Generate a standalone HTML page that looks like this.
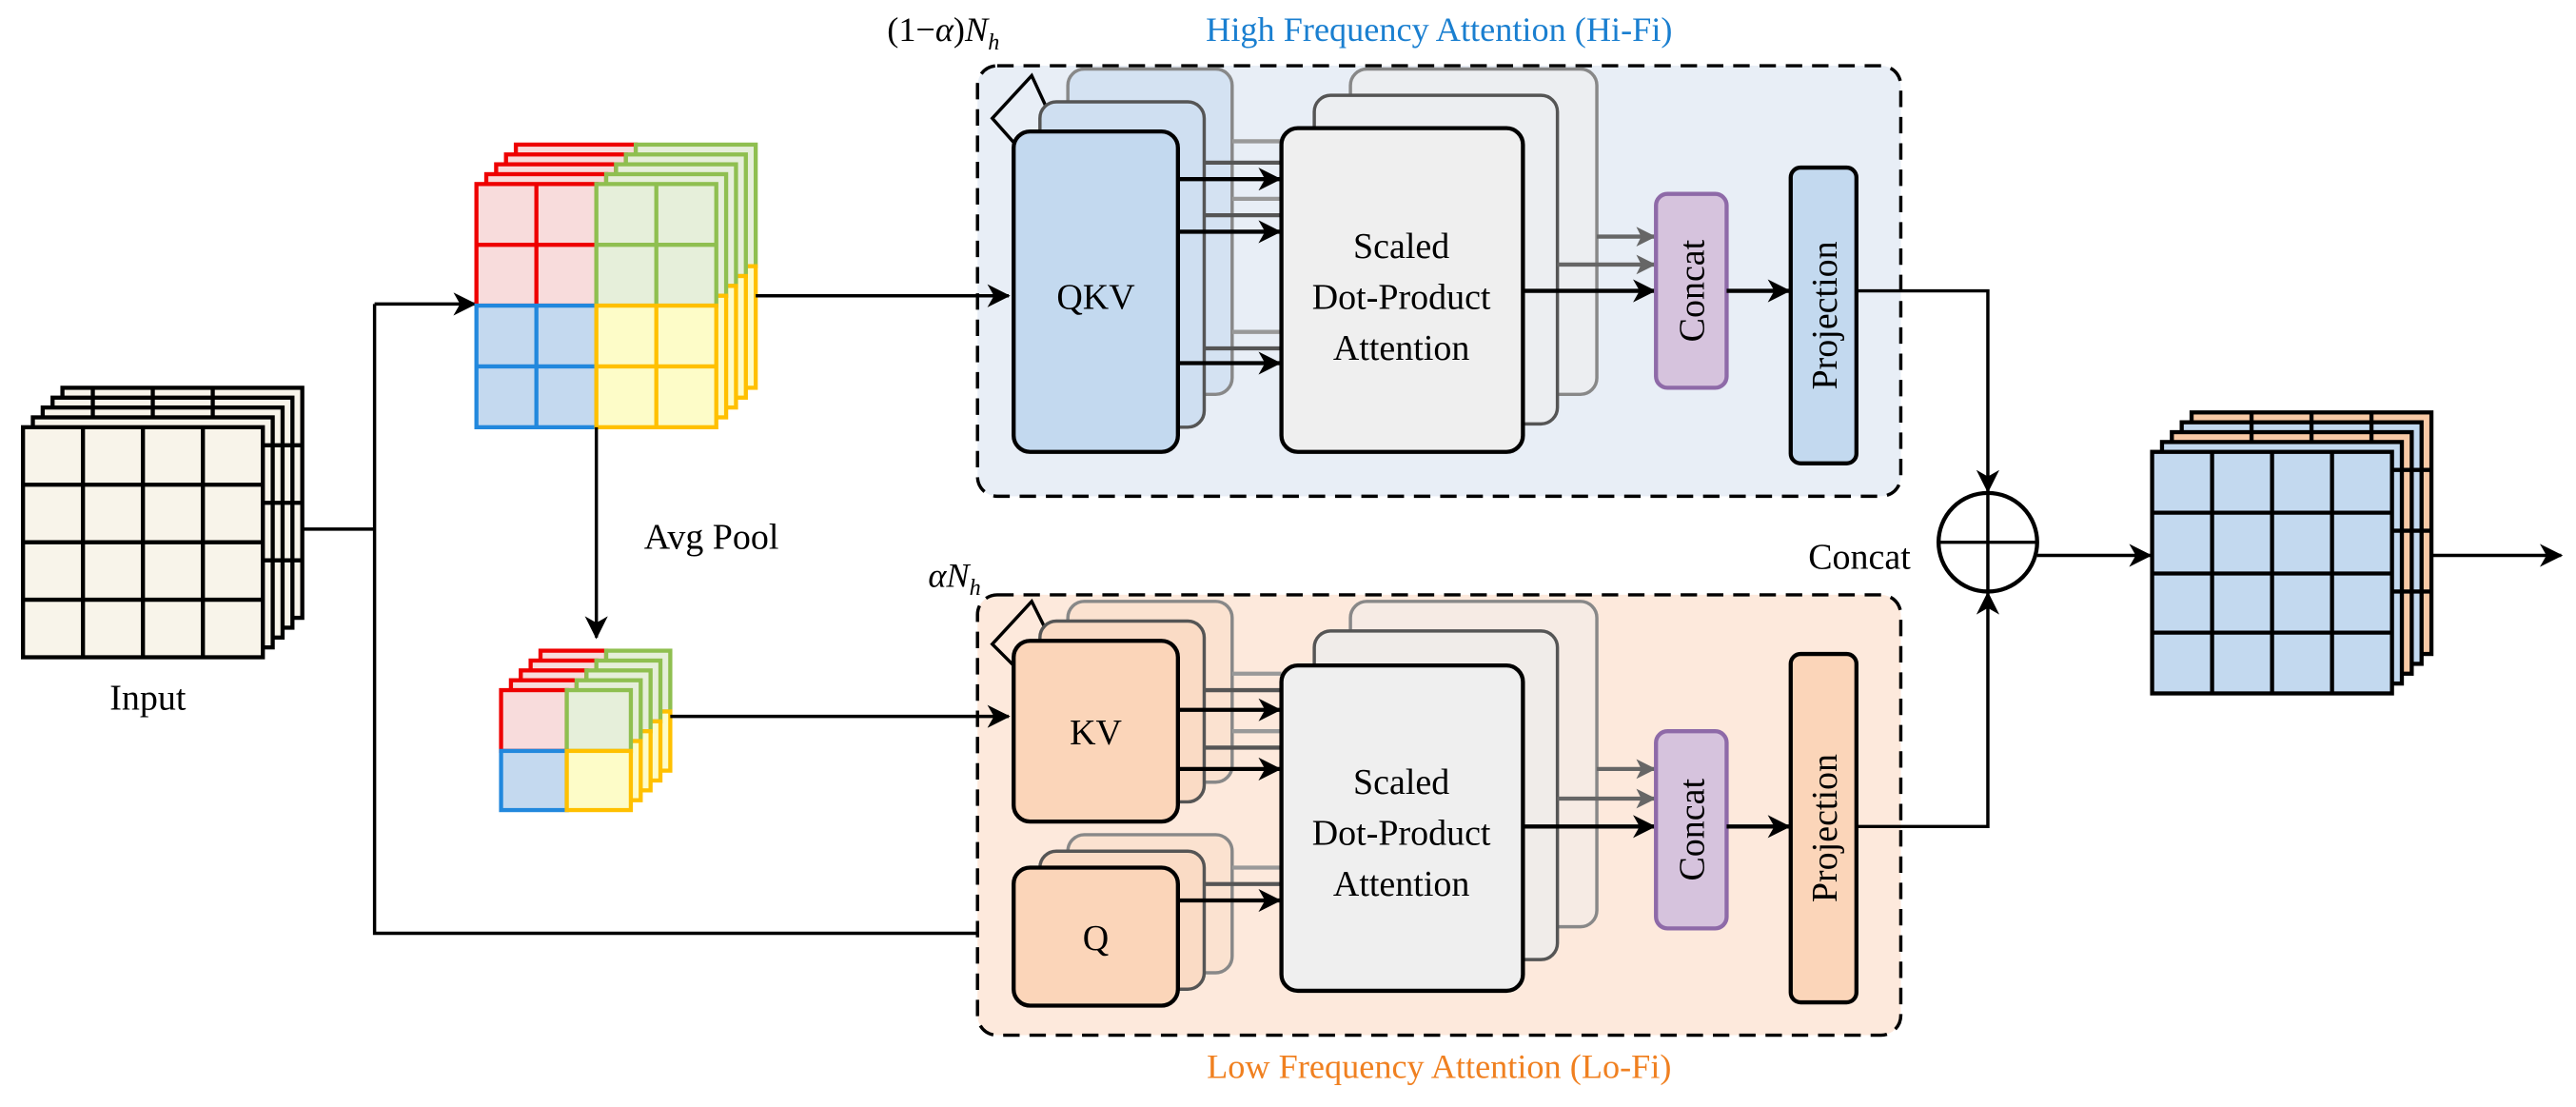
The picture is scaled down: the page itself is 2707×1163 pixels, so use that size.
<!DOCTYPE html>
<html><head><meta charset="utf-8"><style>html,body{margin:0;padding:0;background:#fff}svg{display:block}text{font-family:"Liberation Serif",serif}</style></head>
<body>
<svg width="2707" height="1163" viewBox="0 0 1568 673.7" preserveAspectRatio="none" xmlns="http://www.w3.org/2000/svg" style="font-family:'Liberation Serif',serif">
<defs>
<marker id="a" markerWidth="14" markerHeight="14" refX="13" refY="7" orient="auto" markerUnits="userSpaceOnUse"><path d="M0,0 L14,7 L0,14 L4,7 z" fill="#000"/></marker>
<marker id="g" markerWidth="12" markerHeight="12" refX="11" refY="6" orient="auto" markerUnits="userSpaceOnUse"><path d="M0,0 L12,6 L0,12 L3,6 z" fill="#666"/></marker>
</defs>

<!-- Input cube -->
<g stroke="#000" stroke-width="2.5" fill="#f8f4ea">
<rect x="38" y="236" width="146" height="140"/>
<rect x="32" y="242" width="146" height="140"/>
<rect x="26" y="248" width="146" height="140"/>
<rect x="20" y="254" width="146" height="140"/>
<rect x="14" y="260" width="146" height="140"/>
<path d="M50.5,260V400M87,260V400M123.5,260V400M14,295H160M14,330H160M14,365H160" fill="none"/>
<path d="M56.5,236V254M93,236V254M129.5,236V254M160,271H184M160,306H184M160,341H184" fill="none"/>
</g>
<text x="90" y="432" font-size="22" text-anchor="middle">Input</text>

<g stroke="#000" stroke-width="2" fill="none">
<path d="M184,322H228"/>
<path d="M228,185V568H594"/>
<path d="M228,185H289" marker-end="url(#a)"/>
</g>

<!-- Cube 2 -->
<g stroke-width="2.5">
<g transform="translate(24,-24)"><rect x="290" y="112" width="73" height="74" fill="#f8dcdc" stroke="#e00"/><rect x="363" y="112" width="73" height="74" fill="#e6efda" stroke="#8fbf50"/><rect x="363" y="186" width="73" height="74" fill="#fdfcc8" stroke="#ffc000"/></g>
<g transform="translate(18,-18)"><rect x="290" y="112" width="73" height="74" fill="#f8dcdc" stroke="#e00"/><rect x="363" y="112" width="73" height="74" fill="#e6efda" stroke="#8fbf50"/><rect x="363" y="186" width="73" height="74" fill="#fdfcc8" stroke="#ffc000"/></g>
<g transform="translate(12,-12)"><rect x="290" y="112" width="73" height="74" fill="#f8dcdc" stroke="#e00"/><rect x="363" y="112" width="73" height="74" fill="#e6efda" stroke="#8fbf50"/><rect x="363" y="186" width="73" height="74" fill="#fdfcc8" stroke="#ffc000"/></g>
<g transform="translate(6,-6)"><rect x="290" y="112" width="73" height="74" fill="#f8dcdc" stroke="#e00"/><rect x="363" y="112" width="73" height="74" fill="#e6efda" stroke="#8fbf50"/><rect x="363" y="186" width="73" height="74" fill="#fdfcc8" stroke="#ffc000"/></g>
<rect x="290" y="112" width="73" height="74" fill="#f8dcdc" stroke="#e00"/><path d="M326.5,112V186M290,149H363" stroke="#e00"/>
<rect x="363" y="112" width="73" height="74" fill="#e6efda" stroke="#8fbf50"/><path d="M399.5,112V186M363,149H436" stroke="#8fbf50"/>
<rect x="290" y="186" width="73" height="74" fill="#c4d9ef" stroke="#2288dd"/><path d="M326.5,186V260M290,223H363" stroke="#2288dd"/>
<rect x="363" y="186" width="73" height="74" fill="#fdfcc8" stroke="#ffc000"/><path d="M399.5,186V260M363,223H436" stroke="#ffc000"/>
</g>
<path d="M363,260V388" stroke="#000" stroke-width="2" marker-end="url(#a)"/>
<text x="392" y="334" font-size="22">Avg Pool</text>

<!-- Cube 3 -->
<g stroke-width="2.5">
<g transform="translate(24,-24)"><rect x="305" y="420" width="40" height="37" fill="#f8dcdc" stroke="#e00"/><rect x="345" y="420" width="39" height="37" fill="#e6efda" stroke="#8fbf50"/><rect x="345" y="457" width="39" height="36" fill="#fdfcc8" stroke="#ffc000"/></g>
<g transform="translate(18,-18)"><rect x="305" y="420" width="40" height="37" fill="#f8dcdc" stroke="#e00"/><rect x="345" y="420" width="39" height="37" fill="#e6efda" stroke="#8fbf50"/><rect x="345" y="457" width="39" height="36" fill="#fdfcc8" stroke="#ffc000"/></g>
<g transform="translate(12,-12)"><rect x="305" y="420" width="40" height="37" fill="#f8dcdc" stroke="#e00"/><rect x="345" y="420" width="39" height="37" fill="#e6efda" stroke="#8fbf50"/><rect x="345" y="457" width="39" height="36" fill="#fdfcc8" stroke="#ffc000"/></g>
<g transform="translate(6,-6)"><rect x="305" y="420" width="40" height="37" fill="#f8dcdc" stroke="#e00"/><rect x="345" y="420" width="39" height="37" fill="#e6efda" stroke="#8fbf50"/><rect x="345" y="457" width="39" height="36" fill="#fdfcc8" stroke="#ffc000"/></g>
<rect x="305" y="420" width="40" height="37" fill="#f8dcdc" stroke="#e00"/>
<rect x="345" y="420" width="39" height="37" fill="#e6efda" stroke="#8fbf50"/>
<rect x="305" y="457" width="40" height="36" fill="#c4d9ef" stroke="#2288dd"/>
<rect x="345" y="457" width="39" height="36" fill="#fdfcc8" stroke="#ffc000"/>
</g>

<!-- Hi-Fi box -->
<rect x="595" y="40" width="562" height="262" rx="12" fill="#e8eef6" stroke="#000" stroke-width="2" stroke-dasharray="10,6"/>
<text x="876" y="25" font-size="21" text-anchor="middle" fill="#1a7fd0">High Frequency Attention (Hi-Fi)</text>
<text x="540" y="25" font-size="21">(1−<tspan font-style="italic">α</tspan>)<tspan font-style="italic">N</tspan><tspan font-style="italic" font-size="14" dy="5">h</tspan></text>
<path d="M640,72 L628,46 L604,72 L620,90" stroke="#000" stroke-width="2" fill="none"/>
<path d="M460,180H614" stroke="#000" stroke-width="2" marker-end="url(#a)"/>

<rect x="650" y="42" width="100" height="198" rx="10" fill="#d4e2f2" stroke="#888" stroke-width="2"/>
<rect x="633" y="62" width="100" height="198" rx="10" fill="#cfdff1" stroke="#555" stroke-width="2"/>
<rect x="617" y="80" width="100" height="195" rx="10" fill="#c3d9ef" stroke="#000" stroke-width="2.5"/>
<text x="667" y="188" font-size="22" text-anchor="middle">QKV</text>

<rect x="822" y="42" width="150" height="198" rx="10" fill="#eceef1" stroke="#888" stroke-width="2"/>
<rect x="800" y="58" width="148" height="200" rx="10" fill="#eceef1" stroke="#555" stroke-width="2"/>
<g stroke-width="2.5"><path d="M750,86H780M750,121H780M750,202H780" stroke="#999"/><path d="M733,99H780M733,131H780M733,212H780" stroke="#555"/></g>
<g stroke="#000" stroke-width="2.5"><path d="M717,109H779" marker-end="url(#a)"/><path d="M717,141H779" marker-end="url(#a)"/><path d="M717,221H779" marker-end="url(#a)"/></g>
<rect x="780" y="78" width="147" height="197" rx="10" fill="#efefef" stroke="#000" stroke-width="2.5"/>
<text x="853" y="157" font-size="22" text-anchor="middle">Scaled</text>
<text x="853" y="188" font-size="22" text-anchor="middle">Dot-Product</text>
<text x="853" y="219" font-size="22" text-anchor="middle">Attention</text>

<g stroke-width="2.5"><path d="M972,144H1007" stroke="#666" marker-end="url(#g)"/><path d="M948,161H1007" stroke="#666" marker-end="url(#g)"/><path d="M927,177H1007" stroke="#000" marker-end="url(#a)"/></g>
<rect x="1008" y="118" width="43" height="118" rx="7" fill="#d6c3dd" stroke="#8e6aa8" stroke-width="2.5"/>
<text transform="translate(1037,177) rotate(-90)" font-size="22" text-anchor="middle">Concat</text>
<path d="M1051,177H1089" stroke="#000" stroke-width="2.5" marker-end="url(#a)"/>
<rect x="1090" y="102" width="40" height="180" rx="6" fill="#c3d9ef" stroke="#000" stroke-width="2.5"/>
<text transform="translate(1118,192) rotate(-90)" font-size="22" text-anchor="middle">Projection</text>

<!-- Lo-Fi box -->
<rect x="595" y="362" width="562" height="268" rx="12" fill="#fde9dc" stroke="#000" stroke-width="2" stroke-dasharray="10,6"/>
<text x="876" y="656" font-size="21" text-anchor="middle" fill="#f08020">Low Frequency Attention (Lo-Fi)</text>
<text x="565" y="357" font-size="21" font-style="italic">αN<tspan font-size="14" dy="5">h</tspan></text>
<path d="M640,390 L628,366 L604,392 L620,408" stroke="#000" stroke-width="2" fill="none"/>
<path d="M408,436H614" stroke="#000" stroke-width="2" marker-end="url(#a)"/>

<rect x="650" y="366" width="100" height="110" rx="10" fill="#fbe2d0" stroke="#888" stroke-width="2"/>
<rect x="633" y="378" width="100" height="110" rx="10" fill="#fadbc5" stroke="#555" stroke-width="2"/>
<rect x="617" y="390" width="100" height="110" rx="10" fill="#fbd5b9" stroke="#000" stroke-width="2.5"/>
<text x="667" y="453" font-size="22" text-anchor="middle">KV</text>
<rect x="650" y="508" width="100" height="84" rx="10" fill="#fbe2d0" stroke="#888" stroke-width="2"/>
<rect x="633" y="518" width="100" height="84" rx="10" fill="#fadbc5" stroke="#555" stroke-width="2"/>
<rect x="617" y="528" width="100" height="84" rx="10" fill="#fbd5b9" stroke="#000" stroke-width="2.5"/>
<text x="667" y="578" font-size="22" text-anchor="middle">Q</text>

<rect x="822" y="366" width="150" height="198" rx="10" fill="#f6ebe4" stroke="#888" stroke-width="2"/>
<rect x="800" y="384" width="148" height="200" rx="10" fill="#f0ece9" stroke="#555" stroke-width="2"/>
<g stroke-width="2.5"><path d="M750,410H780M750,445H780M750,528H780" stroke="#999"/><path d="M733,420H780M733,455H780M733,538H780" stroke="#555"/></g>
<g stroke="#000" stroke-width="2.5"><path d="M717,432H779" marker-end="url(#a)"/><path d="M717,468H779" marker-end="url(#a)"/><path d="M717,548H779" marker-end="url(#a)"/></g>
<rect x="780" y="405" width="147" height="198" rx="10" fill="#efefef" stroke="#000" stroke-width="2.5"/>
<text x="853" y="483" font-size="22" text-anchor="middle">Scaled</text>
<text x="853" y="514" font-size="22" text-anchor="middle">Dot-Product</text>
<text x="853" y="545" font-size="22" text-anchor="middle">Attention</text>

<g stroke-width="2.5"><path d="M972,468H1007" stroke="#666" marker-end="url(#g)"/><path d="M948,486H1007" stroke="#666" marker-end="url(#g)"/><path d="M927,503H1007" stroke="#000" marker-end="url(#a)"/></g>
<rect x="1008" y="445" width="43" height="120" rx="7" fill="#d6c3dd" stroke="#8e6aa8" stroke-width="2.5"/>
<text transform="translate(1037,505) rotate(-90)" font-size="22" text-anchor="middle">Concat</text>
<path d="M1051,503H1089" stroke="#000" stroke-width="2.5" marker-end="url(#a)"/>
<rect x="1090" y="398" width="40" height="212" rx="6" fill="#fbd5b9" stroke="#000" stroke-width="2.5"/>
<text transform="translate(1118,504) rotate(-90)" font-size="22" text-anchor="middle">Projection</text>

<!-- merge -->
<g stroke="#000" stroke-width="2" fill="none">
<path d="M1130,177H1210V299" marker-end="url(#a)"/>
<path d="M1130,503H1210V361" marker-end="url(#a)"/>
<circle cx="1210" cy="330" r="30" stroke-width="2.5"/>
<path d="M1180,330H1240M1210,300V360"/>
<path d="M1240,338H1309" marker-end="url(#a)"/>
</g>
<text x="1163" y="346" font-size="22" text-anchor="end">Concat</text>

<!-- Output cube -->
<g stroke="#000" stroke-width="2.5">
<rect x="1334" y="251" width="146" height="147" fill="#f8c9a5"/>
<rect x="1328" y="257" width="146" height="147" fill="#c3d9ef"/>
<rect x="1322" y="263" width="146" height="147" fill="#f8c9a5"/>
<rect x="1316" y="269" width="146" height="147" fill="#c3d9ef"/>
<rect x="1310" y="275" width="146" height="147" fill="#c3d9ef"/>
<path d="M1346.5,275V422M1383,275V422M1419.5,275V422M1310,312H1456M1310,349H1456M1310,385H1456" fill="none"/>
<path d="M1370.5,251V269M1407,251V269M1443.5,251V269M1456,286H1480M1456,323H1480M1456,360H1480" fill="none"/>
</g>
<path d="M1480,338H1559" stroke="#000" stroke-width="2" marker-end="url(#a)"/>
</svg>
</body></html>
